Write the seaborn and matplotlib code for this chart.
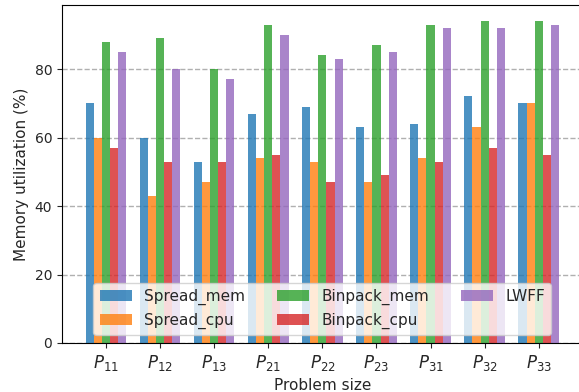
import matplotlib
matplotlib.use("Agg")
import matplotlib.pyplot as plt
import seaborn as sns
import pandas as pd

sns.set_style("ticks")

problems = ["$P_{11}$", "$P_{12}$", "$P_{13}$", "$P_{21}$", "$P_{22}$",
            "$P_{23}$", "$P_{31}$", "$P_{32}$", "$P_{33}$"]
spread_mem = [70, 60, 53, 67, 69, 63, 64, 72, 70]
spread_cpu = [60, 43, 47, 54, 53, 47, 54, 63, 70]
binpack_mem = [88, 89, 80, 93, 84, 87, 93, 94, 94]
binpack_cpu = [57, 53, 53, 55, 47, 49, 53, 57, 55]
lwff = [85, 80, 77, 90, 83, 85, 92, 92, 93]

series = {
    "Spread_mem": spread_mem,
    "Spread_cpu": spread_cpu,
    "Binpack_mem": binpack_mem,
    "Binpack_cpu": binpack_cpu,
    "LWFF": lwff,
}
rows = []
for name, vals in series.items():
    for p, v in zip(problems, vals):
        rows.append({"problem": p, "method": name, "util": v})
df = pd.DataFrame(rows)

fig = plt.figure(figsize=(5.79, 3.92), dpi=100)
ax = fig.add_axes([62 / 579, 49 / 392, 520.7 / 579, 338 / 392])
sns.barplot(data=df, x="problem", y="util", hue="method",
            palette=sns.color_palette("tab10", 5), width=0.75,
            alpha=0.8, saturation=1, linewidth=0, ax=ax, legend=True)

ax.set_xlim(-0.8125, 8.8125)
ax.set_ylim(0, 98.7)
ax.set_yticks([0, 20, 40, 60, 80])
ax.yaxis.grid(True, linestyle="--", color="#b0b0b0", linewidth=1)
ax.set_axisbelow(True)
ax.tick_params(axis="x", labelsize=12)
ax.tick_params(axis="y", labelsize=10)
ax.set_xlabel("Problem size", fontsize=11)
ax.set_ylabel("Memory utilization (%)", fontsize=11)
for s in ax.spines.values():
    s.set_color("black")
ax.legend(loc="lower center", ncol=3, fontsize=11, title=None,
          handlelength=2.1, handleheight=0.75, columnspacing=2.1)

fig.savefig("out.png", dpi=100)
